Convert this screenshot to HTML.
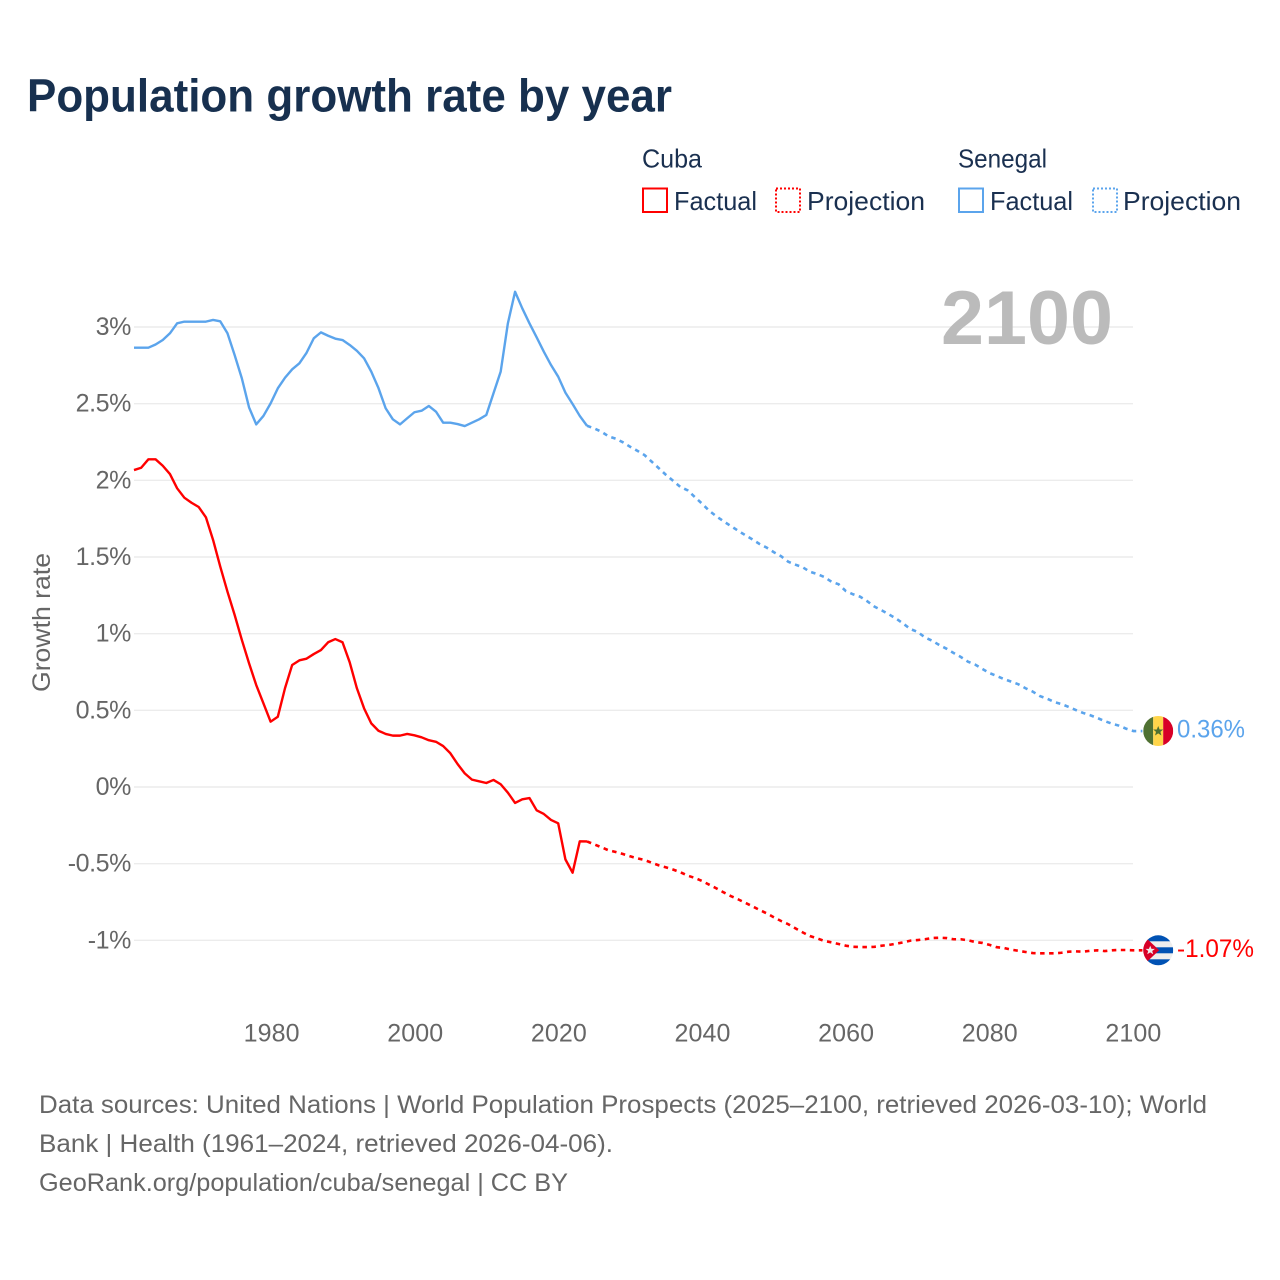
<!DOCTYPE html>
<html lang="en">
<head>
<meta charset="utf-8">
<title>Population growth rate by year</title>
<style>
html,body{margin:0;padding:0;background:#fff;}
svg{display:block;font-family:"Liberation Sans",sans-serif;}
</style>
</head>
<body>
<svg id="chart" xmlns="http://www.w3.org/2000/svg" width="1280" height="1280" viewBox="0 0 1280 1280">
  <defs>
    <clipPath id="flag-clip"><circle cx="0" cy="0" r="15"></circle></clipPath>
  </defs>
  <rect x="0" y="0" width="1280" height="1280" fill="#ffffff"></rect>

  <text x="27" y="111.5" font-size="46" font-weight="700" fill="#17304f" textLength="645" lengthAdjust="spacingAndGlyphs">Population growth rate by year</text>

  <g font-size="26" fill="#1a3050">
    <text x="642" y="167.5" textLength="60" lengthAdjust="spacingAndGlyphs">Cuba</text>
    <text x="958" y="167.5" textLength="89" lengthAdjust="spacingAndGlyphs">Senegal</text>
    <rect x="643" y="188.5" width="24" height="23.5" fill="none" stroke="#ff0000" stroke-width="2"></rect>
    <text x="674" y="210" textLength="83" lengthAdjust="spacingAndGlyphs">Factual</text>
    <rect x="776" y="188.5" width="24" height="23.5" fill="none" stroke="#ff0000" stroke-width="2" stroke-dasharray="2 2"></rect>
    <text x="807" y="210" textLength="118" lengthAdjust="spacingAndGlyphs">Projection</text>
    <rect x="959" y="188.5" width="24" height="23.5" fill="none" stroke="#5ba4ec" stroke-width="2"></rect>
    <text x="990" y="210" textLength="83" lengthAdjust="spacingAndGlyphs">Factual</text>
    <rect x="1093" y="188.5" width="24" height="23.5" fill="none" stroke="#5ba4ec" stroke-width="2" stroke-dasharray="2 2"></rect>
    <text x="1123" y="210" textLength="118" lengthAdjust="spacingAndGlyphs">Projection</text>
  </g>

  <g id="grid"></g>
  <g id="y-ticks"></g>
  <g id="x-ticks"></g>

  <text transform="translate(50,692) rotate(-90)" font-size="25" fill="#666666" textLength="139" lengthAdjust="spacingAndGlyphs">Growth rate</text>

  <text x="941" y="344" font-size="76" font-weight="700" fill="#bbbbbb" textLength="172" lengthAdjust="spacingAndGlyphs">2100</text>

  <g id="series"></g>

  <g id="flag-senegal">
    <g clip-path="url(#flag-clip)">
      <rect x="-15" y="-16" width="10" height="32" fill="#4f7132"></rect>
      <rect x="-5" y="-16" width="10" height="32" fill="#ffd54a"></rect>
      <rect x="5" y="-16" width="10" height="32" fill="#d80027"></rect>
      <polygon points="0,-5 1.4,-1.5 5,-1.5 2.2,0.8 3.2,4.5 0,2.4 -3.2,4.5 -2.2,0.8 -5,-1.5 -1.4,-1.5" fill="#4f7132"></polygon>
    </g>
  </g>
  <g id="flag-cuba">
    <g clip-path="url(#flag-clip)">
      <rect x="-15" y="-16" width="30" height="32" fill="#eeeeee"></rect>
      <rect x="-15" y="-16" width="30" height="7" fill="#0052b4"></rect>
      <rect x="-15" y="-3" width="30" height="6" fill="#0052b4"></rect>
      <rect x="-15" y="9" width="30" height="7" fill="#0052b4"></rect>
      <polygon points="-15,-15 1,0 -15,15" fill="#d80027"></polygon>
      <polygon points="-8,-4.5 -6.7,-1.4 -3.3,-1.4 -6,0.7 -5,4 -8,2.1 -11,4 -10,0.7 -12.7,-1.4 -9.3,-1.4" fill="#eeeeee"></polygon>
    </g>
  </g>
  <text id="value-senegal" x="1177" y="737" font-size="25" fill="#5ba4ec" textLength="68" lengthAdjust="spacingAndGlyphs">0.36%</text>
  <text id="value-cuba" x="1177" y="956" font-size="25" fill="#ff0000" textLength="77" lengthAdjust="spacingAndGlyphs">-1.07%</text>

  <g font-size="25" fill="#666666">
    <text x="39" y="1113" textLength="1168" lengthAdjust="spacingAndGlyphs">Data sources: United Nations | World Population Prospects (2025–2100, retrieved 2026-03-10); World</text>
    <text x="39" y="1152" textLength="574" lengthAdjust="spacingAndGlyphs">Bank | Health (1961–2024, retrieved 2026-04-06).</text>
    <text x="39" y="1191" textLength="529" lengthAdjust="spacingAndGlyphs">GeoRank.org/population/cuba/senegal | CC BY</text>
  </g>
</svg>
<script>
const yTickValues = [3, 2.5, 2, 1.5, 1, 0.5, 0, -0.5, -1];
const yTickLabels = ["3%", "2.5%", "2%", "1.5%", "1%", "0.5%", "0%", "-0.5%", "-1%"];
const xTickYears = [1980, 2000, 2020, 2040, 2060, 2080, 2100];
const factualStartYear = 1961;
const projectionStartYear = 2024;

const senegalFactual = [
  2.865,2.865,2.865,2.886,2.915,2.959,3.024,3.035,3.035,3.035,
  3.035,3.046,3.037,2.959,2.817,2.665,2.476,2.365,2.420,2.502,
  2.600,2.669,2.724,2.763,2.832,2.926,2.965,2.943,2.924,2.915,
  2.883,2.845,2.796,2.709,2.602,2.470,2.398,2.365,2.405,2.444,
  2.454,2.485,2.448,2.376,2.376,2.367,2.354,2.376,2.398,2.426,
  2.568,2.709,3.024,3.230,3.122,3.024,2.933,2.839,2.752,2.676,
  2.572,2.498,2.420,2.356
];
const senegalProjection = [
  2.356,2.339,2.317,2.287,2.272,2.248,2.219,2.193,2.165,2.122,
  2.079,2.035,1.996,1.957,1.935,1.891,1.848,1.802,1.765,1.733,
  1.702,1.672,1.643,1.615,1.585,1.561,1.531,1.505,1.469,1.450,
  1.433,1.404,1.389,1.370,1.339,1.322,1.278,1.257,1.241,1.211,
  1.176,1.152,1.126,1.098,1.065,1.030,1.011,0.976,0.954,0.926,
  0.902,0.874,0.848,0.817,0.798,0.770,0.743,0.724,0.704,0.687,
  0.670,0.644,0.622,0.593,0.576,0.554,0.541,0.522,0.502,0.483,
  0.468,0.450,0.430,0.413,0.400,0.380,0.365
];
const cubaFactual = [
  2.067,2.082,2.137,2.137,2.095,2.041,1.948,1.887,1.854,1.826,
  1.759,1.611,1.437,1.274,1.122,0.959,0.807,0.665,0.546,0.426,
  0.458,0.644,0.796,0.826,0.837,0.867,0.893,0.944,0.965,0.944,
  0.813,0.644,0.513,0.415,0.367,0.346,0.335,0.335,0.346,0.337,
  0.324,0.305,0.295,0.267,0.220,0.150,0.089,0.048,0.037,0.026,
  0.046,0.018,-0.037,-0.104,-0.080,-0.072,-0.152,-0.176,-0.215,-0.237,
  -0.472,-0.559,-0.354,-0.355
];
const cubaProjection = [
  -0.355,-0.374,-0.393,-0.413,-0.424,-0.437,-0.452,-0.465,-0.476,-0.494,
  -0.511,-0.524,-0.539,-0.556,-0.578,-0.593,-0.613,-0.637,-0.661,-0.687,
  -0.711,-0.732,-0.755,-0.778,-0.802,-0.824,-0.850,-0.874,-0.895,-0.922,
  -0.948,-0.972,-0.987,-1.004,-1.013,-1.024,-1.035,-1.042,-1.044,-1.044,
  -1.042,-1.035,-1.030,-1.022,-1.013,-1.002,-0.998,-0.993,-0.985,-0.983,
  -0.985,-0.993,-0.993,-1.000,-1.011,-1.017,-1.030,-1.045,-1.050,-1.061,
  -1.068,-1.076,-1.083,-1.085,-1.085,-1.085,-1.081,-1.074,-1.072,-1.074,
  -1.068,-1.065,-1.070,-1.065,-1.063,-1.063,-1.065
];

const SVG_NS = "http://www.w3.org/2000/svg";
const xScale = function (year) { return 134 + (year - 1961) * 7.19; };
const yScale = function (value) { return 787 - value * 153.33; };

function make(tag, parent) {
  const el = document.createElementNS(SVG_NS, tag);
  parent.appendChild(el);
  return el;
}

const gridGroup = document.getElementById("grid");
const yTickGroup = document.getElementById("y-ticks");
yTickValues.forEach(function (value, i) {
  const line = make("line", gridGroup);
  
  
  line.setAttribute("x1", 134);
  line.setAttribute("x2", 1133);
  line.setAttribute("y1", yScale(value));
  line.setAttribute("y2", yScale(value));
  line.setAttribute("stroke", "#ececec");
  line.setAttribute("stroke-width", "1.4");

  const label = make("text", yTickGroup);
  
  
  label.setAttribute("x", 131);
  label.setAttribute("y", yScale(value) + 8);
  label.setAttribute("text-anchor", "end");
  label.setAttribute("font-size", "25");
  label.setAttribute("letter-spacing", "-0.4");
  label.setAttribute("fill", "#666666");
  label.textContent = yTickLabels[i];
});

const xTickGroup = document.getElementById("x-ticks");
xTickYears.forEach(function (year) {
  const label = make("text", xTickGroup);
  
  
  label.setAttribute("x", xScale(year) + (2100 - year) * 0.0085);
  label.setAttribute("y", 1041.5);
  label.setAttribute("text-anchor", "middle");
  label.setAttribute("font-size", "25");
  label.setAttribute("letter-spacing", "0.1");
  label.setAttribute("fill", "#666666");
  label.textContent = String(year);
});

function pathFor(values, startYear, connector) {
  let d = values.map(function (v, i) {
    return (i === 0 ? "M" : "L") + xScale(startYear + i).toFixed(2) + " " + yScale(v).toFixed(2);
  }).join(" ");
  if (connector) {
    const lastX = xScale(startYear + values.length - 1);
    const lastY = yScale(values[values.length - 1]);
    d += " L" + (lastX + 9).toFixed(2) + " " + lastY.toFixed(2);
  }
  return d;
}

const seriesGroup = document.getElementById("series");

const senegalFactualLine = make("path", seriesGroup);


senegalFactualLine.setAttribute("d", pathFor(senegalFactual, factualStartYear, false));
senegalFactualLine.setAttribute("fill", "none");
senegalFactualLine.setAttribute("stroke", "#5ba4ec");
senegalFactualLine.setAttribute("stroke-width", "2.4");
senegalFactualLine.setAttribute("stroke-linejoin", "round");

const senegalProjectionLine = make("path", seriesGroup);


senegalProjectionLine.setAttribute("d", pathFor(senegalProjection, projectionStartYear, true));
senegalProjectionLine.setAttribute("fill", "none");
senegalProjectionLine.setAttribute("stroke", "#5ba4ec");
senegalProjectionLine.setAttribute("stroke-width", "2.6");
senegalProjectionLine.setAttribute("stroke-dasharray", "4.5 4.5");

const cubaFactualLine = make("path", seriesGroup);


cubaFactualLine.setAttribute("d", pathFor(cubaFactual, factualStartYear, false));
cubaFactualLine.setAttribute("fill", "none");
cubaFactualLine.setAttribute("stroke", "#ff0000");
cubaFactualLine.setAttribute("stroke-width", "2.4");
cubaFactualLine.setAttribute("stroke-linejoin", "round");

const cubaProjectionLine = make("path", seriesGroup);


cubaProjectionLine.setAttribute("d", pathFor(cubaProjection, projectionStartYear, true));
cubaProjectionLine.setAttribute("fill", "none");
cubaProjectionLine.setAttribute("stroke", "#ff0000");
cubaProjectionLine.setAttribute("stroke-width", "2.6");
cubaProjectionLine.setAttribute("stroke-dasharray", "4.5 4.5");

const lastSenegal = senegalProjection[senegalProjection.length - 1];
const lastCuba = cubaProjection[cubaProjection.length - 1];
document.getElementById("flag-senegal").setAttribute("transform", "translate(" + (xScale(2100) + 24.8) + "," + yScale(lastSenegal) + ")");
document.getElementById("flag-cuba").setAttribute("transform", "translate(" + (xScale(2100) + 24.8) + "," + yScale(lastCuba) + ")");
document.getElementById("value-senegal").setAttribute("y", yScale(lastSenegal) + 6.5);
document.getElementById("value-cuba").setAttribute("y", yScale(lastCuba) + 6.5);
</script>
</body>
</html>
